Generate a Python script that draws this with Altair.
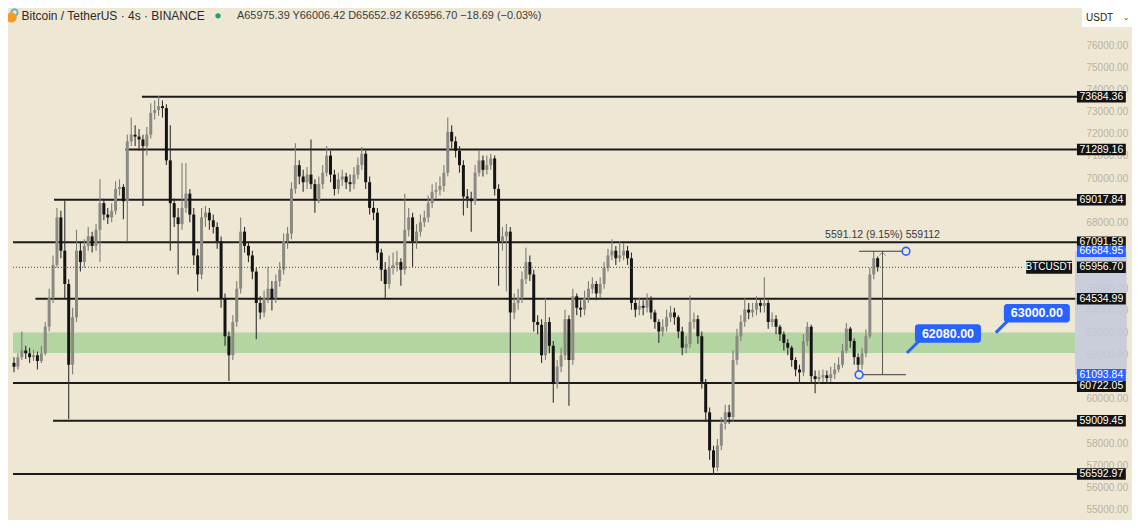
import altair as alt
import pandas as pd

# ---------------- data ----------------
first_open = 61630
closes = [
    61458, 61888, 62190, 62061, 61888, 61974, 61716, 62061, 63266, 64557,
    66064, 68217, 66710, 65203, 61544, 63696, 66710, 66193, 66925, 67356,
    66925, 67657, 68862, 68346, 68217, 68518, 69508, 69594, 68949, 71661,
    71962, 71876, 71747, 71445, 71962, 72952, 73081, 73253, 73167, 70800,
    68862, 68217, 67915, 68647, 69293, 68346, 66495, 65634, 68217, 68432,
    68088, 67786, 67140, 64557, 62835, 61974, 63481, 64988, 67571, 66925,
    66495, 65763, 64342, 63912, 64557, 64988, 64557, 65332, 65849, 67140,
    67485, 69508, 70584, 70068, 69810, 70154, 69723, 68992, 69723, 70240,
    71015, 70154, 69508, 69939, 70068, 69810, 69723, 70154, 70584, 71101,
    69810, 68647, 68432, 66624, 65849, 65203, 65935, 66064, 66193, 65849,
    67657, 68217, 67140, 67571, 68001, 68217, 68862, 69379, 69465, 69637,
    70240, 72091, 71661, 71230, 70584, 69164, 69078, 68949, 70240, 70800,
    70369, 70584, 70886, 69508, 67140, 67356, 67571, 63912, 64342, 64557,
    65418, 66193, 65634, 63481, 63352, 61974, 63481, 62405, 60683, 61458,
    61974, 63610, 61759, 64644, 64127, 64041, 64557, 64988, 65203, 64773,
    65203, 65935, 66495, 66710, 66366, 66495, 66710, 66366, 64342, 64041,
    64213, 64127, 64471, 63912, 63481, 63051, 63266, 63696, 63912, 63696,
    63051, 62319, 62491, 63481, 63610, 62835, 60769, 59391, 57669, 56895,
    57885, 58875, 59391, 59176, 61759, 62835, 63481, 64041, 63912, 64041,
    64342, 64213, 64342, 63481, 63610, 63266, 62922, 62534, 62319, 61759,
    61329, 61200, 62620, 63266, 61027, 60898, 60984, 61070, 60941, 61113,
    61329, 61544, 62190, 63180, 62620, 61888, 61544, 62061, 62835, 65634,
    66366, 65956.70]
highs = [
    61888, 62061, 63051, 62405, 62319, 62233, 62147, 62405, 63481, 64988,
    66495, 68647, 68518, 68992, 65418, 64127, 67657, 67054, 67227, 67786,
    67571, 67915, 69939, 69078, 68647, 68862, 69853, 69939, 69723, 71962,
    72737, 72393, 72220, 71962, 72306, 73382, 73511, 73727, 73511, 73339,
    72393, 69078, 68647, 70670, 70670, 69508, 68647, 66796, 68647, 68733,
    68647, 68346, 68001, 67356, 64773, 63051, 63783, 65332, 68217, 67786,
    67140, 66710, 65935, 64644, 64902, 65978, 65332, 65634, 66193, 67485,
    67786, 69810, 71574, 70800, 70369, 70498, 71747, 69939, 70068, 70584,
    71445, 71230, 70369, 70240, 70369, 70240, 70154, 70498, 70929, 71402,
    71230, 70068, 68949, 68647, 66796, 66193, 66495, 66624, 66710, 66366,
    69293, 68647, 68432, 67915, 68346, 68518, 69207, 69723, 69810, 70068,
    70584, 72737, 72393, 71876, 71445, 70800, 69508, 69379, 70584, 71230,
    71015, 71015, 71101, 71015, 69723, 67786, 67915, 67786, 64773, 64988,
    65763, 66839, 66495, 65849, 63783, 63610, 64557, 63696, 62620, 61759,
    62319, 64041, 63783, 64988, 64773, 64471, 64902, 65332, 65505, 65332,
    65505, 66193, 66796, 67227, 66925, 67140, 67054, 66925, 66624, 64557,
    64557, 64471, 64773, 64644, 64041, 63610, 63610, 64041, 64213, 64127,
    63783, 63266, 62835, 64686, 63912, 63783, 63051, 60898, 59607, 57885,
    58186, 59176, 59736, 59736, 62190, 63180, 63783, 64557, 64342, 64342,
    64643, 64557, 65505, 64471, 63912, 63783, 63352, 63051, 62705, 62405,
    61888, 61544, 62922, 63481, 63352, 61286, 61286, 61329, 61286, 61458,
    61630, 61888, 62491, 63438, 63266, 62749, 62061, 62319, 63137, 65935,
    66684.95, 66452]
lows = [
    61200, 61329, 61759, 61802, 61630, 61716, 61329, 61630, 61974, 63051,
    64342, 65935, 66366, 64557, 59090, 61113, 63481, 65763, 65935, 66710,
    66624, 66710, 66193, 68088, 67915, 68001, 68346, 69207, 68130, 67140,
    71445, 71445, 71230, 68733, 71015, 71790, 72651, 72823, 72737, 70584,
    66710, 67786, 65634, 67657, 68432, 68001, 66064, 64859, 65418, 67786,
    67657, 67485, 66796, 64127, 62405, 60812, 61759, 63266, 64773, 66624,
    66193, 65418, 62705, 63610, 63696, 64342, 63998, 64342, 65074, 65634,
    66796, 67227, 69293, 69723, 69379, 69508, 69508, 68432, 68862, 69508,
    70068, 69810, 69207, 69293, 69637, 69508, 69379, 69508, 69939, 70369,
    69508, 68346, 68088, 66279, 65332, 64557, 64988, 65634, 65763, 65117,
    65634, 67356, 65978, 66796, 67356, 67786, 68001, 68647, 69078, 69207,
    69379, 70068, 71359, 70929, 70240, 68303, 68647, 67571, 68776, 70068,
    70068, 70154, 70369, 69207, 65117, 66710, 64859, 60683, 63610, 64041,
    64342, 65203, 65332, 63051, 62922, 61630, 61759, 62061, 59822, 60468,
    61200, 61759, 59693, 61544, 63783, 63696, 63783, 64342, 64773, 64471,
    64557, 64988, 65763, 66279, 66064, 66193, 66279, 66064, 64041, 63696,
    63783, 63783, 63912, 63610, 63180, 62534, 62835, 63051, 63481, 63352,
    62749, 61974, 62061, 62319, 63180, 62491, 60468, 58961, 57239, 56636,
    56722, 57669, 58616, 58875, 58961, 61544, 62620, 63266, 63610, 63696,
    63783, 63912, 63912, 63180, 63266, 62922, 62620, 62190, 61974, 61458,
    61027, 60683, 61027, 62405, 60683, 60252, 60683, 60769, 60683, 60769,
    60898, 61200, 61415, 62061, 62319, 61544, 61093.84, 61329, 61888, 62749,
    65418, 65763]

level_prices = [73684.36, 71289.16, 69017.84, 67091.59, 64534.99, 60722.05, 59009.45, 56592.97]
level_start_bar = [32.75, 28.5, 10.25, -0.25, 5.5, -0.25, 10.0, -0.25]
zone_low, zone_high = 62080.00, 63000.00
last_price = 65956.70
measure_low, measure_high = 61093.84, 66684.95
measure_start_bar, measure_end_bar = 216.25, 228.25
measure_text = "5591.12 (9.15%) 559112"
callout_prices = [62080.00, 63000.00]
callout_bars = [228.5, 251.25]
# price-scale labels that are visible (the others sit under the price tags)
axis_ticks = [76000, 75000, 74000, 73000, 72000, 71000, 70000, 68000, 65000,
              64000, 63000, 62000, 60000, 58000, 57000, 56000, 55000]
symbol_tag = "BTCUSDT"
title_text = "Bitcoin / TetherUS · 4s · BINANCE"
ohlc_text = "A65975.39 Y66006.42 D65652.92 K65956.70 −18.69 (−0.03%)"
currency = "USDT"

# ---------------- layout / style ----------------
W, H = 1072, 512
BG = "#EEE7D4"
BLUE = "#2962ff"
FONT = "Liberation Sans"
X_MIN, X_MAX = -0.25, 271.5          # bar-index range of the plot area
AXIS_R = 284.75                       # right edge of price-scale column
LAB_L, LAB_R = 272.0, 284.5           # price tag boxes
TAG_L, TAG_R = 259.0, 270.75          # symbol tag box
DOT_END = 258.5

xs = alt.Scale(domain=[X_MIN, X_MAX], nice=False, zero=False)
ys = alt.Scale(domain=[54742, 77472], nice=False, zero=False)
yaxis = alt.Axis(orient="right", values=axis_ticks, format=".2f", labelColor="#b9b2a0",
                 labelFontSize=10, labelFont=FONT, labelPadding=6, domain=False,
                 ticks=False, grid=False, title=None, labelOverlap=False)


def X(f):
    return alt.X(f, type="quantitative", scale=xs, axis=None)


def Y(f):
    return alt.Y(f, type="quantitative", scale=ys, axis=yaxis)


n = len(closes)
opens = [first_open] + closes[:-1]
candles = pd.DataFrame({"i": list(range(n)), "o": opens, "c": closes, "h": highs, "l": lows})
up = alt.datum.c >= alt.datum.o

zone = alt.Chart(pd.DataFrame({"a": [X_MIN], "b": [X_MAX], "lo": [zone_low], "hi": [zone_high]})).mark_rect(
    color="#b3d5a1").encode(x=X("a"), x2="b", y=Y("lo"), y2="hi")

levels = alt.Chart(pd.DataFrame({"s": level_start_bar, "e": [LAB_L] * len(level_prices), "p": level_prices})
                   ).mark_rule(color="#1b1b1b", strokeWidth=2).encode(x=X("s"), x2="e", y=Y("p"))

wicks = alt.Chart(candles).mark_rule(strokeWidth=1.1).encode(
    x=X("i"), y=Y("l"), y2="h",
    color=alt.condition(up, alt.value("#7c7c76"), alt.value("#333331")))
bodies = alt.Chart(candles).mark_bar(size=3.0).encode(
    x=X("i"), y=Y("o"), y2="c",
    color=alt.condition(up, alt.value("#8a8a83"), alt.value("#141414")))

dotted = alt.Chart(pd.DataFrame({"a": [X_MIN], "b": [DOT_END], "p": [last_price]})).mark_rule(
    color="#444", strokeWidth=1, strokeDash=[1, 2]).encode(x=X("a"), x2="b", y=Y("p"))

mid = (measure_start_bar + measure_end_bar) / 2
m_vert = alt.Chart(pd.DataFrame({"x": [mid], "lo": [measure_low], "hi": [measure_high]})).mark_rule(
    color="#5a5a5a", strokeWidth=1).encode(x=X("x"), y=Y("lo"), y2="hi")
m_hor = alt.Chart(pd.DataFrame({"s": [measure_start_bar] * 2, "e": [measure_end_bar] * 2,
                                "p": [measure_low, measure_high]})).mark_rule(
    color="#3a3a3a", strokeWidth=1).encode(x=X("s"), x2="e", y=Y("p"))
m_arrow = alt.Chart(pd.DataFrame({"x": [mid], "p": [measure_high]})).mark_point(
    shape="M-1,0.7L0,-0.3L1,0.7", filled=False, color="#5a5a5a", strokeWidth=1, size=40, yOffset=2
).encode(x=X("x"), y=Y("p"))
m_circles = alt.Chart(pd.DataFrame({"x": [measure_start_bar, measure_end_bar],
                                    "p": [measure_low, measure_high]})).mark_point(
    shape="circle", filled=True, fill=BG, stroke=BLUE, strokeWidth=1.6, size=60, opacity=1
).encode(x=X("x"), y=Y("p"))
m_text = alt.Chart(pd.DataFrame({"x": [mid], "p": [measure_high], "t": [measure_text]})).mark_text(
    dy=-16, fontSize=10.5, font=FONT, color="#3a3a3a").encode(x=X("x"), y=Y("p"), text="t:N")

cdf = pd.DataFrame({"x": callout_bars, "p": callout_prices,
                    "t": [f"{v:.2f}" for v in callout_prices]})
c_tail = alt.Chart(cdf).mark_rule(color=BLUE, strokeWidth=3, x2Offset=12, y2Offset=-12).encode(
    x=X("x"), x2="x", y=Y("p"), y2="p")
c_box = alt.Chart(cdf).mark_rect(color=BLUE, cornerRadius=3, xOffset=8, x2Offset=74,
                                 yOffset=-28.6, y2Offset=-10.2).encode(
    x=X("x"), x2="x", y=Y("p"), y2="p")
c_text = alt.Chart(cdf).mark_text(color="white", fontSize=12.5, fontWeight="bold", font=FONT,
                                  dx=41, dy=-19.4).encode(x=X("x"), y=Y("p"), text="t:N")

shade = alt.Chart(pd.DataFrame({"a": [X_MAX], "b": [AXIS_R], "lo": [measure_low], "hi": [measure_high]})
                  ).mark_rect(color="#c3c9dc", opacity=0.85).encode(x=X("a"), x2="b", y=Y("lo"), y2="hi")


def tags(prices, color, yoff=0.0):
    d = pd.DataFrame({"a": [LAB_L] * len(prices), "b": [LAB_R] * len(prices),
                      "m": [(LAB_L + LAB_R) / 2] * len(prices), "p": prices,
                      "t": [f"{v:.2f}" for v in prices]})
    box = alt.Chart(d).mark_bar(size=11.5, color=color, yOffset=yoff).encode(x=X("a"), x2="b", y=Y("p"))
    txt = alt.Chart(d).mark_text(color="white", fontSize=10.5, font=FONT, dy=yoff).encode(
        x=X("m"), y=Y("p"), text="t:N")
    return [box, txt]


black_main = [p for p in level_prices if p != 60722.05] + [last_price]
tag_layers = tags(black_main, "#131313") + tags([60722.05], "#131313", 3.4) + \
    tags([measure_high, measure_low], BLUE)

sym = pd.DataFrame({"a": [TAG_L], "b": [TAG_R], "m": [(TAG_L + TAG_R) / 2], "p": [last_price], "t": [symbol_tag]})
sym_box = alt.Chart(sym).mark_bar(size=13, color="#131313").encode(x=X("a"), x2="b", y=Y("p"))
sym_txt = alt.Chart(sym).mark_text(color="white", fontSize=10, font=FONT).encode(x=X("m"), y=Y("p"), text="t:N")

one = pd.DataFrame({"k": [0]})
icon_teal = alt.Chart(one).mark_point(filled=False, color="#3aa0b4", strokeWidth=2, size=40).encode(
    x=alt.value(6.5), y=alt.value(4.5))
icon_orange = alt.Chart(one).mark_circle(color="#f59a23", size=105, opacity=1).encode(
    x=alt.value(3.5), y=alt.value(9.5))
title = alt.Chart(one).mark_text(align="left", baseline="middle", fontSize=12, font=FONT, color="#2b2b2b").encode(
    x=alt.value(13.5), y=alt.value(7.5), text=alt.value(title_text))
gdot = alt.Chart(one).mark_circle(color="#1e9e7a", size=28, opacity=1).encode(x=alt.value(210), y=alt.value(7.8))
ohlc = alt.Chart(one).mark_text(align="left", baseline="middle", fontSize=10.9, font=FONT, color="#3c3c3c").encode(
    x=alt.value(229), y=alt.value(7.8), text=alt.value(ohlc_text))
usdt_box = alt.Chart(one).mark_rect(color="white").encode(
    x=alt.value(1074), x2=alt.value(1124), y=alt.value(0), y2=alt.value(19))
usdt_txt = alt.Chart(one).mark_text(align="left", baseline="middle", fontSize=10, font=FONT, color="#222").encode(
    x=alt.value(1078), y=alt.value(9.5), text=alt.value(currency))
usdt_chev = alt.Chart(one).mark_text(align="center", baseline="middle", fontSize=8, font="DejaVu Sans", color="#555").encode(
    x=alt.value(1118), y=alt.value(9.5), text=alt.value("⌄"))

chart = alt.layer(
    zone, levels, wicks, bodies, dotted,
    m_vert, m_hor, m_arrow, m_circles, m_text,
    c_tail, c_box, c_text,
    shade, *tag_layers, sym_box, sym_txt,
    icon_teal, icon_orange, title, gdot, ohlc, usdt_box, usdt_txt, usdt_chev,
).properties(
    width=W, height=H,
    autosize=alt.AutoSizeParams(type="none"),
    padding={"left": 0, "top": 0, "right": 52, "bottom": 0},
    background=BG,
).configure_view(stroke=None)

chart.save("out.html", embed_options={"renderer": "svg", "actions": False})
